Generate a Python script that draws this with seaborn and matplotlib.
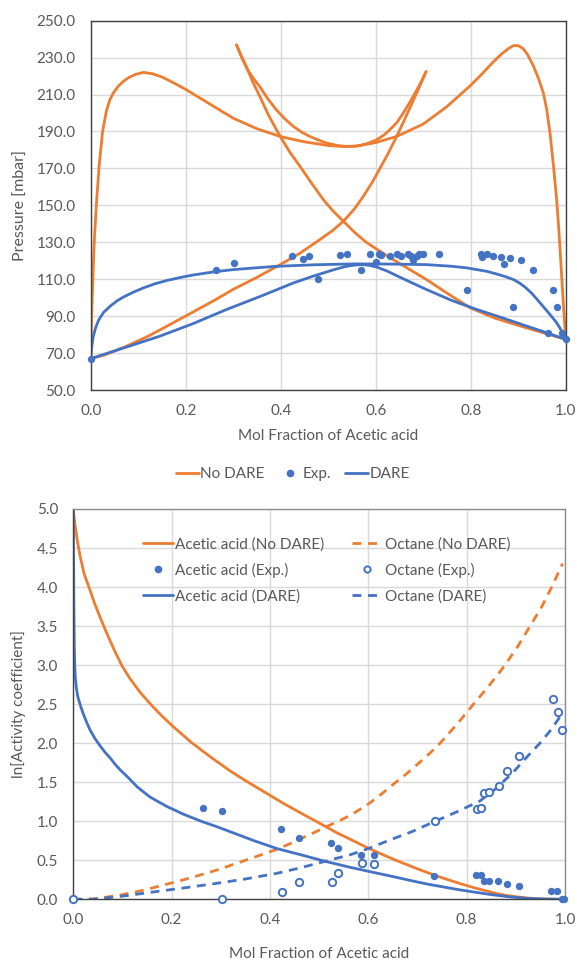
import matplotlib
matplotlib.use("Agg")
import matplotlib.pyplot as plt
from matplotlib.lines import Line2D
import seaborn as sns

# ---------------- Top chart data (Pressure vs mol fraction) ----------------
nodare_m_x = [0.0, 0.001, 0.002, 0.004, 0.0055, 0.008, 0.0126, 0.018, 0.025, 0.033, 0.040, 0.048,
              0.058, 0.068, 0.08, 0.095, 0.111, 0.13, 0.15, 0.175, 0.202, 0.25, 0.30, 0.35,
              0.40, 0.45, 0.50, 0.53, 0.56, 0.60, 0.644, 0.70, 0.75, 0.80, 0.825, 0.848,
              0.865, 0.880, 0.890, 0.90, 0.91, 0.92, 0.932, 0.943, 0.953, 0.96, 0.967, 0.974,
              0.981, 0.986, 0.990, 0.995, 1.0]
nodare_m_p = [67.0, 80, 90, 106, 117, 133, 153, 172, 190, 201, 207, 211,
              214.5, 217, 219.2, 221, 222, 221.3, 219.5, 216.3, 212.5, 205, 197.2, 191.5,
              187.2, 184.4, 182.4, 181.9, 182.1, 184, 187.3, 194, 203.5, 215, 221.5, 227.8,
              232, 235, 236.5, 236.5, 235, 231.5, 225.5, 218.5, 210.8, 202, 189, 172,
              153, 135, 118, 97, 77.4]

nodare_b_x = [0.0, 0.03, 0.076, 0.12, 0.16, 0.216, 0.26, 0.30, 0.35, 0.399, 0.44, 0.48, 0.51,
              0.532, 0.555, 0.574, 0.595, 0.61, 0.627, 0.644, 0.66, 0.675, 0.69, 0.706]
nodare_b_p = [67.0, 69, 73.8, 79, 84.5, 92.3, 98.5, 104.5, 111, 117.9, 124, 131, 136.5,
              141.4, 148, 154.9, 163.5, 170.5, 178.5, 187.3, 196, 204.5, 213, 222.4]

nodare_c_x = [0.307, 0.315, 0.328, 0.34, 0.356, 0.375, 0.399, 0.42, 0.441, 0.465, 0.49, 0.51,
              0.532, 0.555, 0.58, 0.61, 0.637, 0.67, 0.707, 0.75, 0.799, 0.85, 0.90, 0.95, 1.0]
nodare_c_p = [236.9, 232, 225.1, 217.5, 209, 198.5, 187.3, 178.5, 171, 162, 153, 147,
              141.4, 135.5, 130, 125, 120.6, 115.5, 109.8, 102.5, 94.5, 89, 85, 81.2, 77.4]

nodare_u_x = [0.307, 0.318, 0.33, 0.343, 0.356, 0.372, 0.39, 0.408, 0.427, 0.445, 0.46, 0.48,
              0.497, 0.52, 0.539, 0.555, 0.57, 0.585, 0.602, 0.617, 0.63, 0.645, 0.658, 0.67,
              0.68, 0.693, 0.706]
nodare_u_p = [236.9, 230, 223.5, 218.5, 214.3, 208, 202, 197, 192.7, 189.5, 187.5, 185.3,
              183.7, 182.4, 181.9, 182, 182.6, 183.7, 185.5, 188, 191, 195, 200, 205,
              209.5, 215.5, 222.4]

dare_up_x = [0.0, 0.002, 0.005, 0.01, 0.017, 0.027, 0.041, 0.055, 0.07, 0.09, 0.111, 0.135,
             0.16, 0.19, 0.216, 0.26, 0.30, 0.35, 0.392, 0.47, 0.553, 0.63, 0.707, 0.76,
             0.79, 0.813, 0.835, 0.855, 0.873, 0.890, 0.903, 0.915, 0.928, 0.939, 0.95, 0.96,
             0.971, 0.981, 0.988, 0.994, 1.0]
dare_up_p = [67.0, 73, 78.5, 83.5, 88, 92, 95.4, 98.2, 100.5, 103, 105.3, 107.5,
             109.3, 111, 112.3, 114, 115.2, 116.2, 117, 117.8, 118.3, 118.2, 117.9, 117,
             116.2, 115.2, 114.2, 112.8, 111.4, 109.8, 107.9, 105.6, 102.5, 99.3, 96, 93,
             89.6, 86.4, 83.5, 80.5, 77.4]

dare_lo_x = [0.0, 0.07, 0.146, 0.216, 0.286, 0.36, 0.427, 0.47, 0.51, 0.535, 0.553, 0.57,
             0.585, 0.602, 0.625, 0.65, 0.68, 0.707, 0.76, 0.813, 0.87, 0.918, 0.96, 1.0]
dare_lo_p = [67.0, 72.8, 79.2, 86, 93.6, 101, 108, 111.8, 115, 116.8, 117.6, 117.9,
             117.6, 116.6, 114.3, 111.2, 107.6, 104.4, 98.5, 93.6, 88.8, 84.6, 81, 77.4]

exp_x = [0.0, 0.264, 0.302, 0.424, 0.446, 0.460, 0.479, 0.525, 0.539, 0.568, 0.587, 0.601, 0.606,
         0.612, 0.630, 0.644, 0.653, 0.667, 0.674, 0.679, 0.686, 0.692, 0.700, 0.733, 0.793,
         0.821, 0.823, 0.834, 0.846, 0.864, 0.871, 0.883, 0.888, 0.905, 0.931, 0.962, 0.974,
         0.982, 0.993, 1.0]
exp_p = [67.0, 114.9, 119.0, 122.4, 121.0, 122.4, 110.2, 123.0, 123.4, 115.1, 123.4, 119.2, 123.9,
         123.0, 122.6, 123.4, 122.8, 123.4, 122.4, 120.6, 122.4, 123.9, 123.4, 123.9, 104.4,
         123.9, 122.1, 123.4, 122.4, 122.1, 118.1, 121.5, 94.7, 120.5, 115.1, 80.6, 104.4,
         94.7, 80.6, 77.4]

p_ticks = [50, 70, 90, 110, 130, 150, 170, 190, 210, 230, 250]
x_ticks = [0.0, 0.2, 0.4, 0.6, 0.8, 1.0]

# ---------------- Bottom chart data (ln activity coefficient) ----------------
aa_nd_x = [0.0, 0.003, 0.008, 0.014, 0.022, 0.034, 0.044, 0.054, 0.07, 0.085, 0.1, 0.115,
           0.136, 0.16, 0.18, 0.2, 0.24, 0.282, 0.32, 0.35, 0.39, 0.427, 0.47, 0.508, 0.535,
           0.563, 0.60, 0.63, 0.66, 0.70, 0.732, 0.76, 0.79, 0.82, 0.854, 0.88, 0.90, 0.925,
           0.95, 0.975, 1.0]
aa_nd_v = [5.0, 4.82, 4.6, 4.39, 4.17, 3.96, 3.78, 3.62, 3.38, 3.17, 2.98, 2.83,
           2.65, 2.48, 2.35, 2.23, 2.01, 1.81, 1.64, 1.52, 1.37, 1.23, 1.08, 0.95, 0.855,
           0.77, 0.655, 0.57, 0.49, 0.39, 0.315, 0.255, 0.195, 0.14, 0.085, 0.05, 0.033, 0.016,
           0.006, 0.001, 0.0]

aa_d_x = [0.0, 0.0005, 0.001, 0.002, 0.003, 0.004, 0.006, 0.009, 0.0136, 0.02, 0.027, 0.034,
          0.044, 0.054, 0.065, 0.075, 0.085, 0.095, 0.11, 0.13, 0.156, 0.19, 0.224, 0.26,
          0.292, 0.33, 0.37, 0.414, 0.46, 0.51, 0.563, 0.61, 0.651, 0.69, 0.72, 0.76, 0.787,
          0.82, 0.85, 0.885, 0.922, 0.96, 1.0]
aa_d_v = [5.0, 4.4, 3.9, 3.25, 2.98, 2.85, 2.72, 2.6, 2.5, 2.38, 2.27, 2.17,
          2.06, 1.97, 1.88, 1.81, 1.73, 1.66, 1.57, 1.44, 1.31, 1.19, 1.09, 1.0,
          0.93, 0.84, 0.745, 0.65, 0.575, 0.49, 0.41, 0.345, 0.29, 0.235, 0.195, 0.15, 0.12,
          0.088, 0.06, 0.033, 0.012, 0.003, 0.0]

oc_nd_x = [0.0, 0.04, 0.07, 0.10, 0.135, 0.170, 0.20, 0.23, 0.26, 0.292, 0.32, 0.35, 0.38,
           0.414, 0.44, 0.46, 0.485, 0.508, 0.53, 0.549, 0.575, 0.60, 0.627, 0.654, 0.68,
           0.70, 0.725, 0.746, 0.78, 0.814, 0.846, 0.878, 0.904, 0.929, 0.952, 0.973, 0.995]
oc_nd_v = [0.0, 0.005, 0.03, 0.06, 0.105, 0.16, 0.21, 0.26, 0.315, 0.375, 0.435, 0.50, 0.565,
           0.64, 0.71, 0.77, 0.84, 0.91, 0.975, 1.03, 1.12, 1.22, 1.35, 1.49, 1.62,
           1.73, 1.87, 2.0, 2.24, 2.5, 2.74, 3.0, 3.24, 3.5, 3.74, 4.0, 4.3]

oc_d_x = [0.0, 0.04, 0.07, 0.1, 0.135, 0.17, 0.23, 0.292, 0.35, 0.414, 0.46, 0.508, 0.535,
          0.563, 0.60, 0.644, 0.69, 0.736, 0.78, 0.827, 0.86, 0.895, 0.925, 0.949, 0.97, 0.99]
oc_d_v = [0.0, 0.0, 0.02, 0.04, 0.07, 0.10, 0.15, 0.205, 0.26, 0.333, 0.40, 0.48, 0.525,
          0.57, 0.65, 0.76, 0.87, 1.0, 1.12, 1.26, 1.42, 1.63, 1.84, 2.0, 2.16, 2.34]

aa_exp_x = [0.263, 0.302, 0.422, 0.460, 0.525, 0.538, 0.586, 0.611, 0.734, 0.820, 0.829, 0.835,
            0.845, 0.864, 0.883, 0.906, 0.972, 0.983, 0.993, 0.998]
aa_exp_v = [1.17, 1.13, 0.90, 0.785, 0.72, 0.66, 0.57, 0.57, 0.295, 0.31, 0.315, 0.23,
            0.24, 0.24, 0.19, 0.17, 0.106, 0.106, 0.0, 0.0]

oc_exp_x = [0.0, 0.303, 0.424, 0.460, 0.527, 0.538, 0.588, 0.611, 0.736, 0.822, 0.829, 0.836,
            0.845, 0.866, 0.883, 0.906, 0.975, 0.985, 0.993]
oc_exp_v = [0.0, 0.0, 0.09, 0.22, 0.22, 0.34, 0.46, 0.45, 1.00, 1.16, 1.17, 1.36,
            1.37, 1.45, 1.64, 1.83, 2.57, 2.40, 2.17]

v_ticks = [0.0, 0.5, 1.0, 1.5, 2.0, 2.5, 3.0, 3.5, 4.0, 4.5, 5.0]

# ---------------- Style ----------------
sns.set_style("white")
plt.rcParams['font.family'] = ['Lato', 'DejaVu Sans']
ORANGE = "#ED7D31"
BLUE = "#4472C4"
TXT = "#595959"
GRID = "#D9D9D9"
LW = 2.0
FS = 11

fig = plt.figure(figsize=(5.77, 9.60), dpi=100)

# ---------- Top axes ----------
ax1 = fig.add_axes([90.7 / 577, 1 - 390 / 960, 475 / 577, 369.3 / 960])
for xs, ys in [(nodare_m_x, nodare_m_p), (nodare_b_x, nodare_b_p),
               (nodare_c_x, nodare_c_p), (nodare_u_x, nodare_u_p)]:
    sns.lineplot(x=xs, y=ys, sort=False, estimator=None, color=ORANGE, linewidth=LW, ax=ax1)
for xs, ys in [(dare_up_x, dare_up_p), (dare_lo_x, dare_lo_p)]:
    sns.lineplot(x=xs, y=ys, sort=False, estimator=None, color=BLUE, linewidth=LW, ax=ax1)
sns.scatterplot(x=exp_x, y=exp_p, color=BLUE, s=28, linewidth=0, ax=ax1, clip_on=False, zorder=5)

ax1.set_xlim(0, 1)
ax1.set_ylim(50, 250)
ax1.set_xticks(x_ticks)
ax1.set_yticks(p_ticks)
ax1.set_xticklabels([f"{t:.1f}" for t in x_ticks])
ax1.set_yticklabels([f"{t:.1f}" for t in p_ticks])
ax1.grid(True, color=GRID, linewidth=1)
ax1.set_axisbelow(True)
for s in ax1.spines.values():
    s.set_color("#404040")
    s.set_linewidth(1.0)
ax1.tick_params(axis='both', length=0, labelsize=FS, labelcolor=TXT)
ax1.tick_params(axis='y', pad=11)
ax1.tick_params(axis='x', pad=10)
ax1.set_xlabel("Mol Fraction of Acetic acid", fontsize=FS, color=TXT, labelpad=8)
ax1.set_ylabel("Pressure [mbar]", fontsize=FS + 0.5, color=TXT, labelpad=6)

top_handles = [Line2D([], [], color=ORANGE, lw=LW),
               Line2D([], [], color=BLUE, lw=0, marker='o', markersize=4.5),
               Line2D([], [], color=BLUE, lw=LW)]
fig.legend(top_handles, ["No DARE", "Exp.", "DARE"], loc='center',
           bbox_to_anchor=(293 / 577, 1 - 474 / 960), ncol=3, frameon=False,
           fontsize=FS, labelcolor=TXT, handlelength=1.5, handletextpad=0.1,
           columnspacing=0.9)

# ---------- Bottom axes ----------
ax2 = fig.add_axes([73.3 / 577, 1 - 899.3 / 960, 491.7 / 577, 390.3 / 960])
DASH = (0, (3.2, 2.4))
sns.lineplot(x=aa_nd_x, y=aa_nd_v, sort=False, estimator=None, color=ORANGE, linewidth=LW, ax=ax2)
sns.lineplot(x=oc_nd_x, y=oc_nd_v, sort=False, estimator=None, color=ORANGE, linewidth=LW,
             linestyle=DASH, ax=ax2)
sns.lineplot(x=aa_d_x, y=aa_d_v, sort=False, estimator=None, color=BLUE, linewidth=LW, ax=ax2)
sns.lineplot(x=oc_d_x, y=oc_d_v, sort=False, estimator=None, color=BLUE, linewidth=LW,
             linestyle=DASH, ax=ax2)
sns.scatterplot(x=aa_exp_x, y=aa_exp_v, color=BLUE, s=28, linewidth=0, ax=ax2,
                clip_on=False, zorder=5)
sns.scatterplot(x=oc_exp_x, y=oc_exp_v, marker='o', facecolor='white', edgecolor=BLUE,
                s=28, linewidth=1.4, ax=ax2, clip_on=False, zorder=5)

ax2.set_xlim(0, 1)
ax2.set_ylim(0, 5)
ax2.set_xticks(x_ticks)
ax2.set_yticks(v_ticks)
ax2.set_xticklabels([f"{t:.1f}" for t in x_ticks])
ax2.set_yticklabels([f"{t:.1f}" for t in v_ticks])
ax2.grid(True, color=GRID, linewidth=1)
ax2.set_axisbelow(True)
ax2.spines['left'].set_color("#404040")
ax2.spines['bottom'].set_color("#404040")
ax2.spines['top'].set_color("#8C8C8C")
ax2.spines['right'].set_color("#8C8C8C")
for s in ax2.spines.values():
    s.set_linewidth(1.0)
ax2.tick_params(axis='both', length=0, labelsize=FS, labelcolor=TXT)
ax2.tick_params(axis='y', pad=11)
ax2.tick_params(axis='x', pad=10)
ax2.set_xlabel("Mol Fraction of Acetic acid", fontsize=FS, color=TXT, labelpad=14)
ax2.set_ylabel("ln[Activity coefficient]", fontsize=FS, color=TXT, labelpad=8)

bot_handles = [Line2D([], [], color=ORANGE, lw=LW),
               Line2D([], [], color=BLUE, lw=0, marker='o', markersize=4.5),
               Line2D([], [], color=BLUE, lw=LW),
               Line2D([], [], color=ORANGE, lw=LW, linestyle=DASH),
               Line2D([], [], color=BLUE, lw=0, marker='o', markersize=4.5,
                      markerfacecolor='white', markeredgewidth=1.4),
               Line2D([], [], color=BLUE, lw=LW, linestyle=DASH)]
bot_labels = ["Acetic acid (No DARE)", "Acetic acid (Exp.)", "Acetic acid (DARE)",
              "Octane (No DARE)", "Octane (Exp.)", "Octane (DARE)"]
ax2.legend(bot_handles, bot_labels, loc='center', bbox_to_anchor=(0.515, 0.843), ncol=2,
           frameon=False, fontsize=FS, labelcolor=TXT, handlelength=2.0, handletextpad=0.15,
           columnspacing=1.8, labelspacing=0.75)

fig.savefig("out.png", dpi=100)
